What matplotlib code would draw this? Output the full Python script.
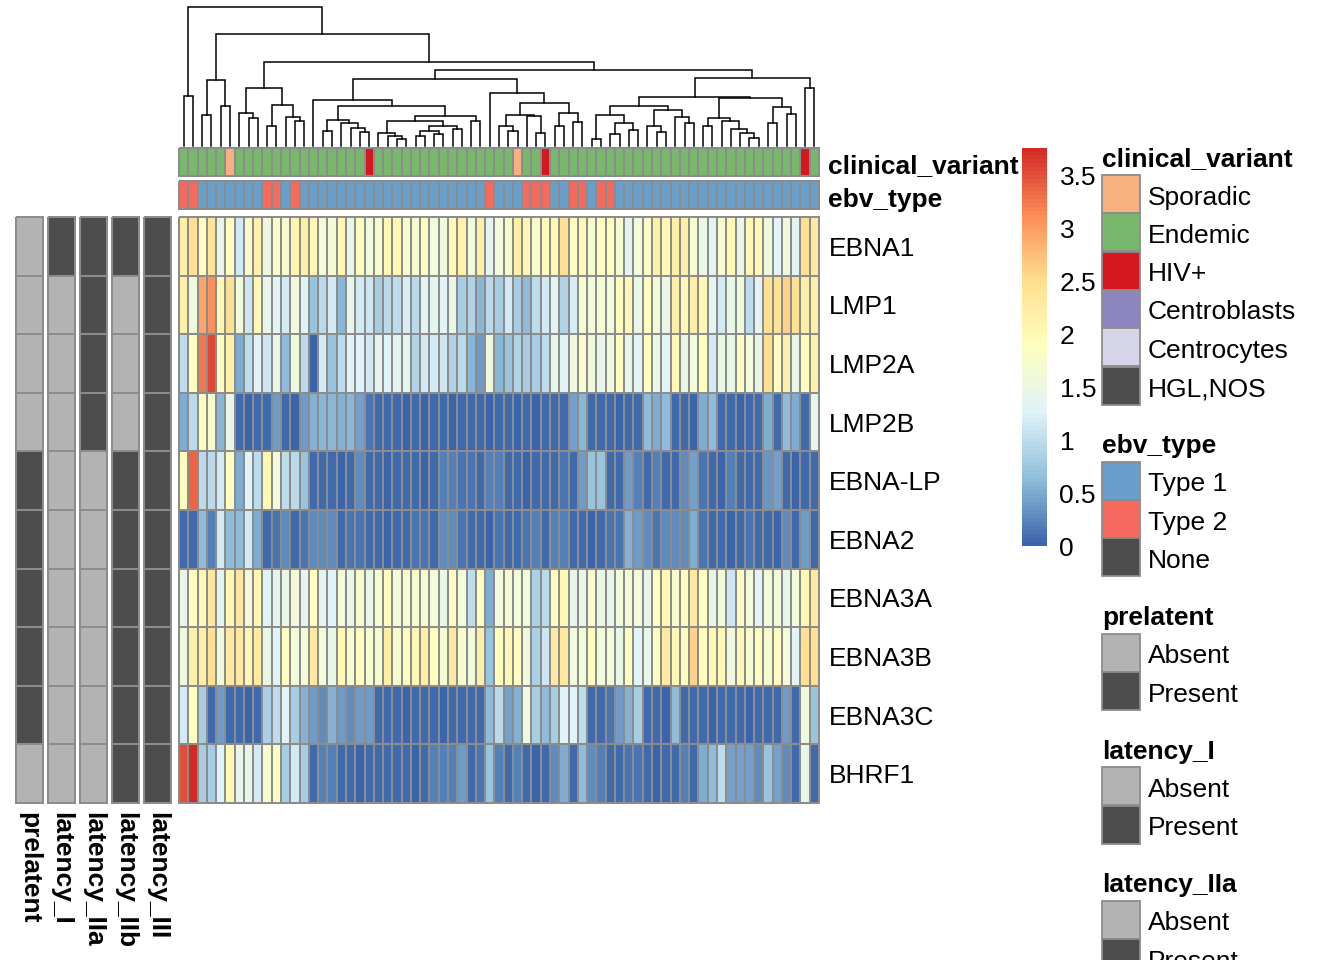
import matplotlib
matplotlib.use('Agg')
import matplotlib.pyplot as plt
import numpy as np
from matplotlib.colors import LinearSegmentedColormap, ListedColormap
from matplotlib.patches import Rectangle

plt.rcParams['font.family'] = ['Liberation Sans', 'DejaVu Sans']

W, H = 1344, 960
FS = 19
BASE = 9.5          # px from text centre to baseline
BORDER = '#8c8c8c'

genes = ['EBNA1', 'LMP1', 'LMP2A', 'LMP2B', 'EBNA-LP', 'EBNA2', 'EBNA3A', 'EBNA3B', 'EBNA3C', 'BHRF1']

ebna1 = [2.2, 2.5, 1.9, 2.4, 1.4, 1.9, 1.15, 1.75, 2.15, 1.5, 1.8, 1.7, 2.1, 2.2, 2.0, 1.6, 1.65, 2.0, 1.4, 1.9, 1.6, 1.75, 2.05,
         2.0, 1.7, 1.7, 1.9, 1.6, 1.55, 2.0, 2.15, 1.6, 2.2, 1.35, 1.6, 1.75, 2.2, 2.05, 1.75, 1.9, 2.05, 2.5, 1.9, 2.0, 1.7, 1.9,
         1.9, 1.7, 1.35, 1.6, 1.8, 2.2, 2.0, 2.2, 2.2, 1.7, 1.45, 1.35, 1.7, 2.0, 1.45, 2.0, 2.0, 1.55, 1.3, 1.55, 1.3, 2.5, 2.3]
lmp1 = [2.2, 1.55, 2.95, 3.1, 2.05, 2.45, 1.6, 1.1, 2.0, 1.4, 1.3, 1.15, 1.55, 1.25, 0.7, 0.95, 1.15, 0.6, 1.4, 1.15, 1.1, 0.8, 0.95,
        1.0, 1.2, 0.95, 1.3, 1.35, 1.3, 1.45, 0.8, 0.9, 0.6, 0.95, 0.8, 1.15, 0.8, 0.62, 1.0, 1.15, 1.35, 0.9, 1.2, 1.7, 1.6, 1.65,
        1.6, 1.9, 2.05, 1.45, 1.9, 1.6, 1.45, 2.2, 2.0, 2.2, 2.0, 1.35, 1.15, 1.45, 1.55, 1.0, 1.3, 2.5, 2.45, 2.6, 2.45, 2.2, 2.2]
lmp2a = [1.0, 1.9, 3.25, 3.55, 1.9, 2.2, 0.5, 1.0, 1.25, 1.1, 1.4, 0.62, 1.55, 0.95, 0.0, 1.15, 0.7, 1.0, 1.25, 1.25, 1.15, 1.35, 1.25,
         1.35, 1.35, 0.9, 1.15, 1.15, 1.1, 0.9, 0.95, 0.6, 0.4, 1.55, 0.6, 0.68, 0.9, 0.8, 0.8, 1.0, 1.4, 1.25, 1.55, 1.7, 1.55, 1.4,
         1.55, 1.9, 1.4, 1.3, 1.9, 1.45, 1.3, 2.05, 1.45, 1.6, 1.9, 1.15, 1.45, 1.45, 1.9, 1.6, 1.4, 2.5, 1.9, 2.2, 1.45, 1.9, 2.2]
lmp2b = [0.5, 0.95, 1.9, 1.7, 0.6, 1.4, 0.05, 0.03, 0.06, 0.04, 0.4, 0.05, 0.03, 0.4, 0.55, 0.6, 0.6, 0.55, 0.6, 0.45, 0.15, 0.04, 0.05,
         0.04, 0.03, 0.05, 0.02, 0.06, 0.04, 0.03, 0.05, 0.04, 0.06, 0.03, 0.05, 0.04, 0.02, 0.05, 0.03, 0.04, 0.06, 0.05, 0.45, 0.6, 0.04, 0.05,
         0.05, 0.03, 0.04, 0.06, 0.62, 0.5, 0.62, 0.04, 0.05, 0.03, 0.5, 0.62, 0.05, 0.04, 0.03, 0.06, 0.05, 0.5, 0.04, 0.62, 0.5, 0.05, 1.4]
ebna_lp = [1.9, 3.35, 0.95, 0.95, 1.15, 1.9, 0.5, 1.25, 1.0, 2.05, 1.6, 1.0, 0.95, 0.68, 0.05, 0.04, 0.06, 0.03, 0.05, 0.3, 0.04, 0.05, 0.03,
           0.05, 0.04, 0.06, 0.03, 0.05, 0.2, 0.2, 0.15, 0.15, 0.05, 0.2, 0.2, 0.04, 0.05, 0.03, 0.06, 0.04, 0.05, 0.12, 0.04, 0.4, 0.68, 0.68,
           0.05, 0.04, 0.4, 0.2, 0.05, 0.22, 0.04, 0.05, 0.3, 0.45, 0.15, 0.05, 0.03, 0.2, 0.05, 0.04, 0.06, 0.35, 0.45, 0.05, 0.03, 0.05, 0.04]
ebna2 = [0.05, 0.04, 0.62, 0.2, 1.15, 0.62, 0.62, 1.15, 0.5, 0.05, 0.12, 0.3, 0.04, 0.12, 0.3, 0.3, 0.3, 0.05, 0.15, 0.15, 0.04, 0.05, 0.03,
         0.05, 0.04, 0.15, 0.15, 0.05, 0.3, 0.3, 0.12, 0.04, 0.05, 0.03, 0.15, 0.05, 0.04, 0.15, 0.2, 0.05, 0.2, 0.22, 0.04, 0.05, 0.03, 0.05,
         0.15, 0.15, 0.55, 0.4, 0.3, 0.15, 0.3, 0.3, 0.3, 0.5, 0.12, 0.05, 0.04, 0.03, 0.05, 0.15, 0.04, 0.05, 0.03, 0.3, 0.05, 0.4, 0.04]
ebna3a = [1.4, 1.9, 2.0, 2.3, 1.35, 2.05, 2.3, 1.6, 2.05, 1.25, 1.35, 1.45, 1.6, 1.35, 1.9, 1.35, 1.25, 1.6, 1.45, 1.7, 1.45, 1.7, 1.9,
          1.6, 1.7, 1.7, 1.7, 1.6, 1.45, 1.9, 1.6, 1.0, 1.9, 0.5, 1.6, 1.7, 1.6, 1.6, 0.85, 0.95, 1.9, 2.0, 1.4, 1.45, 1.7, 1.45,
          1.4, 1.6, 1.65, 1.6, 1.4, 1.9, 2.05, 1.75, 1.9, 2.3, 1.9, 1.4, 1.6, 1.1, 1.9, 1.6, 1.3, 1.6, 1.6, 1.4, 1.6, 2.05, 2.3]
ebna3b = [1.55, 2.2, 2.2, 2.45, 1.55, 2.3, 2.3, 2.05, 2.3, 1.45, 1.25, 1.9, 1.6, 1.6, 2.3, 1.6, 1.4, 2.05, 1.7, 1.9, 1.7, 1.7, 2.2,
          1.7, 1.9, 2.0, 2.2, 1.9, 1.7, 2.3, 1.7, 1.6, 2.2, 0.68, 1.9, 2.0, 1.9, 1.55, 0.85, 1.1, 2.3, 2.3, 1.6, 1.6, 1.9, 1.6,
          1.6, 1.45, 1.9, 1.3, 1.45, 1.9, 2.3, 2.0, 1.9, 2.6, 1.9, 2.0, 2.0, 1.55, 2.0, 1.7, 1.9, 1.7, 1.9, 1.6, 1.3, 2.5, 2.5]
ebna3c = [1.15, 1.9, 0.8, 0.05, 0.4, 0.04, 0.05, 0.03, 0.05, 0.85, 1.0, 1.25, 0.8, 0.55, 0.4, 0.3, 0.55, 0.4, 0.3, 0.4, 0.4, 0.04, 0.05,
          0.05, 0.03, 0.04, 0.06, 0.05, 0.03, 0.04, 0.05, 0.06, 0.04, 0.62, 0.95, 0.45, 0.55, 1.55, 0.8, 0.62, 0.8, 1.25, 1.25, 1.0, 0.04, 0.05,
          0.15, 0.4, 0.55, 0.8, 0.05, 0.04, 0.03, 0.62, 0.05, 0.04, 0.06, 0.03, 0.05, 0.04, 0.05, 0.03, 0.06, 0.04, 0.05, 0.4, 0.05, 1.55, 0.68]
bhrf1 = [3.5, 3.75, 0.8, 0.8, 1.25, 2.05, 1.4, 1.4, 1.15, 1.7, 1.9, 0.8, 1.15, 0.8, 0.05, 0.2, 0.2, 0.04, 0.05, 0.03, 0.05, 0.04, 0.05,
         0.05, 0.04, 0.03, 0.05, 0.2, 0.2, 0.2, 0.4, 0.05, 0.15, 0.68, 0.2, 0.04, 0.2, 0.05, 0.03, 0.04, 0.3, 0.5, 0.05, 0.62, 0.3, 0.22,
         0.05, 0.04, 0.15, 0.15, 0.05, 0.03, 0.04, 0.05, 0.22, 0.04, 0.5, 0.62, 1.0, 0.42, 0.42, 0.42, 0.3, 0.68, 0.42, 0.3, 0.05, 1.4, 0.04]

# per-sample annotations (S=Sporadic, E=Endemic, H=HIV+; 1=Type 1, 2=Type 2)
clinical_code = 'EEEEESEEEEEEEEEEEEEEHEE' + 'EEEEEEEEEEEEESEEHEEEEEE' + 'EEEEEEEEEEEEEEEEEEEEEHE'
ebv_code = '22111111122121111111111' + '11111111112111222112212' + '21111111111111111111111'

# per-gene annotations
prelatent = ['Absent', 'Absent', 'Absent', 'Absent', 'Present', 'Present', 'Present', 'Present', 'Present', 'Absent']
latency_I = ['Present', 'Absent', 'Absent', 'Absent', 'Absent', 'Absent', 'Absent', 'Absent', 'Absent', 'Absent']
latency_IIa = ['Present', 'Present', 'Present', 'Present', 'Absent', 'Absent', 'Absent', 'Absent', 'Absent', 'Absent']
latency_IIb = ['Present', 'Absent', 'Absent', 'Absent', 'Present', 'Present', 'Present', 'Present', 'Present', 'Present']
latency_III = ['Present'] * 10

# column dendrogram: [merge height, left, right]; leaves are column indices
n_2_5 = [200, [95, 2, 3], [120, 4, 5]]
n_6_13 = [175, [100, 6, [85, 7, 8]], [125, [62, 9, 10], [88, 11, [75, 12, 13]]]]
n_15_20 = [80, [45, 15, 16], [70, 17, [55, 18, [43, 19, 20]]]]
n_21_30 = [75, [40, 21, [30, 22, [20, 23, 24]]], [60, [45, [30, 25, 26], [35, 27, 28]], [52, 29, 30]]]
n_21_32 = [92, n_21_30, [75, 31, 32]]
n_14_32 = [140, 14, [120, n_15_20, n_21_32]]
n_34_39 = [95, [60, 34, [45, 35, 36]], [90, 37, [40, 38, 39]]]
n_40_43 = [100, [60, 40, 41], [73, 42, 43]]
n_33_43 = [160, 33, [130, n_34_39, n_40_43]]
n_44_49 = [95, [20, 44, 45], [70, [35, 46, 47], [50, 48, 49]]]
n_50_55 = [110, [62, 50, [42, 51, 52]], [88, 53, [70, 54, 55]]]
n_56_62 = [85, [60, 56, 57], [75, 58, [52, 59, [40, 60, [25, 61, 62]]]]]
n_63_66 = [118, [70, 63, 64], [97, 65, 66]]
n_44_66 = [150, [122, n_44_49, n_50_55], [145, n_56_62, n_63_66]]
n_44_68 = [205, n_44_66, [175, 67, 68]]
n_14_68 = [230, [202, n_14_32, n_33_43], n_44_68]
col_tree = [422, [152, 0, 1], [340, n_2_5, [254, n_6_13, n_14_68]]]

clinical_levels = ['Sporadic', 'Endemic', 'HIV+', 'Centroblasts', 'Centrocytes', 'HGL,NOS']
clinical_colors = ['#F6B17F', '#78B86C', '#D3191F', '#8D85BF', '#D5D4E8', '#4D4D4D']
ebv_levels = ['Type 1', 'Type 2', 'None']
ebv_colors = ['#6A9FCB', '#F6695E', '#4D4D4D']
pa_levels = ['Absent', 'Present']
pa_colors = ['#B3B3B3', '#4D4D4D']

clin_map = {'S': 'Sporadic', 'E': 'Endemic', 'H': 'HIV+'}
ebv_map = {'1': 'Type 1', '2': 'Type 2'}
clinical_variant = [clin_map[c] for c in clinical_code]
ebv_type = [ebv_map[c] for c in ebv_code]

mat = np.array([ebna1, lmp1, lmp2a, lmp2b, ebna_lp, ebna2, ebna3a, ebna3b, ebna3c, bhrf1])
n_rows, n_cols = mat.shape
vmin, vmax = 0.0, 3.76

fig = plt.figure(figsize=(W / 100, H / 100), dpi=100)

# overlay in pixel coordinates for free text and legend
lax = fig.add_axes([0, 0, 1, 1], zorder=5)
lax.set_xlim(0, W)
lax.set_ylim(H, 0)
lax.axis('off')


def px_axes(x0, y0, x1, y1):
    return fig.add_axes([x0 / W, 1 - y1 / H, (x1 - x0) / W, (y1 - y0) / H])


def clean(ax):
    ax.set_xticks([])
    ax.set_yticks([])
    for s in ax.spines.values():
        s.set_visible(False)


cmap = LinearSegmentedColormap.from_list(
    'rdylbu', ['#3A64AB', '#91BFDB', '#E0F3F8', '#FFFFBF', '#FEE090', '#FC8D59', '#D42A25'], N=100)

# main heatmap
ax = px_axes(179, 217, 819, 803)
m = ax.pcolormesh(np.arange(n_cols + 1), np.arange(n_rows + 1), mat, cmap=cmap, vmin=vmin, vmax=vmax,
                  edgecolors=BORDER, linewidth=1.3)
m.set_clip_on(False)
ax.set_xlim(0, n_cols)
ax.set_ylim(n_rows, 0)
clean(ax)
ax.yaxis.tick_right()
ax.set_yticks(np.arange(n_rows) + 0.5, genes, fontsize=FS)
ax.tick_params(axis='y', length=0, pad=7)

# column annotations
for (y0, y1), values, levels, colors, name in [
        ((148, 176), clinical_variant, clinical_levels, clinical_colors, 'clinical_variant'),
        ((181, 209), ebv_type, ebv_levels, ebv_colors, 'ebv_type')]:
    a = px_axes(179, y0, 819, y1)
    codes = np.array([[levels.index(v) for v in values]])
    mm = a.pcolormesh(np.arange(n_cols + 1), [0, 1], codes, cmap=ListedColormap(colors),
                      vmin=-0.5, vmax=len(levels) - 0.5, edgecolors=BORDER, linewidth=1.3)
    mm.set_clip_on(False)
    a.set_xlim(0, n_cols)
    a.set_ylim(1, 0)
    clean(a)
    lax.text(828, (y0 + y1) / 2 + 2 + BASE, name, fontsize=FS, fontweight='bold',
             ha='left', va='baseline')

# row annotations
row_ann = [('prelatent', prelatent), ('latency_I', latency_I), ('latency_IIa', latency_IIa),
           ('latency_IIb', latency_IIb), ('latency_III', latency_III)]
for k, (name, values) in enumerate(row_ann):
    x0 = 16 + 32 * k
    a = px_axes(x0, 217, x0 + 27, 803)
    codes = np.array([[pa_levels.index(v)] for v in values])
    mm = a.pcolormesh([0, 1], np.arange(n_rows + 1), codes, cmap=ListedColormap(pa_colors),
                      vmin=-0.5, vmax=1.5, edgecolors=BORDER, linewidth=1.3)
    mm.set_clip_on(False)
    a.set_xlim(0, 1)
    a.set_ylim(n_rows, 0)
    clean(a)
    a.text(0.5, -0.015, name, transform=a.transAxes, rotation=270, fontsize=FS, fontweight='bold',
           ha='center', va='top')

# dendrogram
dax = px_axes(179, 7, 819, 146)
dax.set_xlim(0, n_cols)
dax.set_ylim(0, col_tree[0])
dax.axis('off')


def draw_node(node):
    if isinstance(node, int):
        return node + 0.5, 0.0
    h, left, right = node
    xl, hl = draw_node(left)
    xr, hr = draw_node(right)
    dax.plot([xl, xl, xr, xr], [hl, h, h, hr], color='black', lw=1.1, clip_on=False,
             solid_joinstyle='miter')
    return (xl + xr) / 2, h


draw_node(col_tree)

# colour key
cax = px_axes(1022, 148, 1047, 546)
grad = np.linspace(vmin, vmax, 100).reshape(-1, 1)
cax.imshow(grad, cmap=cmap, vmin=vmin, vmax=vmax, aspect='auto', origin='lower',
           extent=[0, 1, vmin, vmax])
cax.set_xticks([])
for s in cax.spines.values():
    s.set_visible(False)
cax.yaxis.tick_right()
ticks = [0, 0.5, 1, 1.5, 2, 2.5, 3, 3.5]
cax.set_yticks(ticks, ['0', '0.5', '1', '1.5', '2', '2.5', '3', '3.5'], fontsize=FS)
cax.tick_params(axis='y', length=0, pad=9)

# legends
legend_blocks = [('clinical_variant', clinical_levels, clinical_colors),
                 ('ebv_type', ebv_levels, ebv_colors),
                 ('prelatent', pa_levels, pa_colors),
                 ('latency_I', pa_levels, pa_colors),
                 ('latency_IIa', pa_levels, pa_colors),
                 ('latency_IIb', pa_levels, pa_colors),
                 ('latency_III', pa_levels, pa_colors)]
y = 157
for title, levels, colors in legend_blocks:
    lax.text(1102, y + BASE, title, fontsize=FS, fontweight='bold', ha='left', va='baseline')
    yb = y + 18
    for lev, col in zip(levels, colors):
        lax.add_patch(Rectangle((1102, yb), 38, 38, facecolor=col, edgecolor=BORDER, lw=1.3))
        lax.text(1148, yb + 20 + BASE, lev, fontsize=FS, ha='left', va='baseline')
        yb += 38.3
    y = yb + 39

fig.savefig('out.png', dpi=100)
